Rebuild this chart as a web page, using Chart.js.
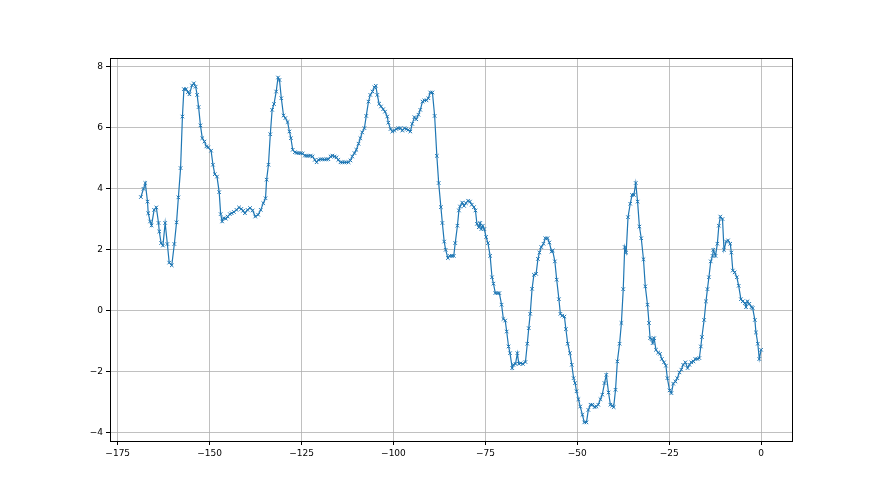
<!DOCTYPE html>
<html>
<head>
<meta charset="utf-8">
<script src="https://cdn.jsdelivr.net/npm/chart.js@4"></script>
<style>
  body { margin: 0; background: #fff; }
  #c { display: block; }
</style>
</head>
<body>
<canvas id="c" width="880" height="495"></canvas>
<script>
// series, x then y
const xValues = [
  -168.7,-168.0,-167.5,-166.9,-166.7,-166.2,-165.8,-165.1,-164.5,-163.9,-163.7,-163.2,-162.7,-162.1,-161.5,-161.0,-160.3,-159.6,-159.0,-158.5,
  -157.9,-157.4,-157.0,-156.4,-155.9,-155.5,-154.8,-154.3,-153.8,-153.4,-153.0,-152.5,-152.0,-151.4,-150.9,-150.4,-149.6,-149.1,-148.6,-148.0,
  -147.4,-147.0,-146.6,-146.2,-145.6,-145.1,-144.5,-144.0,-143.4,-142.7,-142.0,
  -141.4,-140.9,-140.4,-139.7,-139.0,-138.3,-137.6,-136.8,-136.1,-135.4,-134.8,-134.5,-134.0,-133.5,-133.0,-132.5,-131.9,-131.4,-131.0,-130.5,
  -129.9,-129.4,-128.8,-128.3,-127.9,-127.4,-126.8,-126.3,-125.8,-125.2,-124.7,-124.1,-123.6,-123.1,-122.5,-122.0,-121.4,-120.9,-120.4,-119.8,
  -119.3,-118.7,-118.2,-117.7,-117.1,-116.6,-116.0,-115.5,-115.0,-114.4,-113.9,-113.3,-112.8,-112.2,
  -111.7,-111.2,-110.6,-110.1,-109.5,-109.0,-108.5,-107.9,-107.4,-106.8,-106.3,-105.7,-105.2,-104.8,-104.4,-103.9,-103.4,-102.8,-102.3,-101.7,
  -101.4,-100.8,-100.3,-99.8,-99.2,-98.7,-98.1,-97.6,-97.0,-96.5,-96.0,-95.4,-94.9,-94.3,-93.8,-93.2,-92.7,-92.1,-91.6,-91.0,
  -90.5,-90.0,-89.4,-88.8,-88.2,-87.7,-87.1,-86.7,-86.2,-85.8,-85.2,-84.7,-84.1,-83.6,
  -83.2,-82.6,-82.2,-81.9,-81.3,-80.8,-80.3,-79.7,-79.2,-78.7,-78.1,-77.7,-77.3,-76.8,-76.4,-76.1,-75.7,-75.3,-74.8,-74.3,
  -73.7,-73.2,-72.8,-72.3,-71.7,-71.2,-70.6,-70.1,-69.6,-69.2,-68.7,-68.3,-67.7,-67.4,-66.8,-66.3,-65.9,-65.4,-64.8,-64.1,
  -63.6,-63.2,-62.8,-62.3,-61.8,-61.2,-60.7,-60.3,-59.8,-59.2,-58.7,-58.1,-57.6,-57.0,-56.7,-56.1,-55.6,-55.0,
  -54.6,-54.1,-53.5,-53.1,-52.6,-52.0,-51.5,-51.0,-50.6,-50.2,-49.7,-49.2,-48.6,-48.1,-47.5,-47.0,-46.4,-45.9,-45.3,-44.8,
  -44.3,-43.7,-43.2,-42.6,-42.1,-41.5,-41.0,-40.5,-40.1,-39.6,-39.1,-38.5,-38.0,-37.5,-37.1,-36.7,-36.2,-35.6,-35.1,-34.6,
  -34.1,-33.6,-33.1,-32.6,-32.0,-31.5,-30.9,-30.5,-30.2,-29.8,-29.5,-29.1,-28.6,-28.0,-27.5,-27.0,-26.4,
  -25.9,-25.5,-24.9,-24.4,-23.9,-23.3,-22.8,-22.2,-21.7,-21.2,-20.6,-20.0,-19.5,-19.0,-18.4,-17.9,-17.3,-16.8,-16.4,-16.1,
  -15.5,-15.0,-14.6,-14.2,-13.7,-13.2,-13.0,-12.4,-11.9,-11.5,-11.1,-10.5,-10.1,-9.5,-9.0,-8.4,-8.1,-7.7,-7.2,-6.6,
  -6.1,-5.5,-5.0,-4.4,-4.1,-3.7,-3.2,-2.6,-2.3,-1.7,-1.4,-0.9,-0.5,0.0
];
const yValues = [
  3.73,4.00,4.19,3.58,3.20,2.93,2.80,3.31,3.39,2.88,2.60,2.22,2.14,2.88,2.19,1.58,1.49,2.19,2.90,3.72,
  4.68,6.37,7.27,7.27,7.17,7.10,7.39,7.46,7.35,7.08,6.68,6.08,5.66,5.55,5.39,5.36,5.25,4.79,4.48,4.40,
  3.89,3.17,2.93,3.04,3.02,3.09,3.17,3.20,3.24,3.31,3.39,
  3.34,3.28,3.20,3.31,3.37,3.29,3.09,3.15,3.31,3.53,3.69,4.30,4.79,5.79,6.59,6.78,7.19,7.65,7.57,6.97,
  6.40,6.32,6.19,5.88,5.66,5.28,5.20,5.18,5.17,5.17,5.16,5.09,5.08,5.08,5.09,5.06,4.95,4.87,4.95,4.97,
  4.97,4.96,4.97,4.97,5.06,5.09,5.06,5.03,4.95,4.87,4.87,4.87,4.87,4.87,
  4.93,5.06,5.17,5.28,5.48,5.66,5.85,5.99,6.39,6.86,7.08,7.19,7.33,7.38,7.08,6.79,6.70,6.61,6.53,6.37,
  6.17,5.96,5.88,5.91,5.96,5.99,5.99,5.91,5.99,5.96,5.93,5.88,6.13,6.35,6.28,6.43,6.59,6.86,6.90,6.90,
  6.97,7.16,7.16,6.39,5.08,4.19,3.40,2.88,2.27,2.00,1.73,1.80,1.80,1.80,
  2.22,2.79,3.29,3.42,3.55,3.44,3.53,3.61,3.58,3.48,3.40,3.29,2.85,2.74,2.88,2.68,2.79,2.68,2.42,2.22,
  1.80,1.10,0.89,0.58,0.58,0.58,0.20,-0.27,-0.32,-0.68,-1.17,-1.39,-1.88,-1.77,-1.74,-1.39,-1.74,-1.72,-1.74,-1.68,
  -1.08,-0.57,-0.10,0.72,1.18,1.21,1.70,1.91,2.09,2.20,2.38,2.38,2.24,1.94,1.98,1.62,1.02,0.38,
  -0.10,-0.16,-0.19,-0.60,-1.08,-1.39,-1.77,-2.21,-2.37,-2.64,-2.90,-3.14,-3.41,-3.66,-3.66,-3.25,-3.08,-3.08,-3.16,-3.14,
  -3.08,-2.90,-2.75,-2.37,-2.10,-2.68,-3.08,-3.11,-3.16,-2.59,-1.66,-1.08,-0.40,0.71,2.09,1.91,3.07,3.51,3.80,3.80,
  4.19,3.58,2.76,2.38,1.69,0.80,0.20,-0.40,-0.90,-0.93,-1.06,-0.90,-1.28,-1.37,-1.41,-1.58,-1.69,
  -1.80,-2.21,-2.61,-2.70,-2.39,-2.32,-2.21,-2.02,-1.93,-1.77,-1.69,-1.88,-1.77,-1.69,-1.66,-1.58,-1.58,-1.55,-1.17,-0.86,
  -0.30,0.31,0.71,1.10,1.62,1.80,2.00,1.80,2.20,2.79,3.09,3.01,2.00,2.27,2.31,2.20,1.91,1.32,1.26,1.10,
  0.82,0.38,0.31,0.25,0.12,0.31,0.23,0.12,0.09,-0.30,-0.71,-1.08,-1.58,-1.28
];
const xTicks = [-175, -150, -125, -100, -75, -50, -25, 0];
const yTicks = [-4, -2, 0, 2, 4, 6, 8];

const points = xValues.map((x, i) => ({ x: x, y: yValues[i] }));
const minus = v => String(v).replace('-', '\u2212');

// black frame round the plot area, like the matplotlib spines
const frame = {
  id: 'frame',
  afterDraw(chart) {
    const a = chart.chartArea, ctx = chart.ctx;
    ctx.save();
    ctx.strokeStyle = '#000';
    ctx.lineWidth = 1;
    ctx.strokeRect(Math.round(a.left) + 0.5, Math.round(a.top) + 0.5,
      Math.round(a.right - a.left), Math.round(a.bottom - a.top));
    ctx.restore();
  }
};

const tickFont = { family: 'DejaVu Sans', size: 9 };

new Chart(document.getElementById('c'), {
  type: 'scatter',
  data: {
    datasets: [{
      data: points,
      showLine: true,
      borderColor: '#1f77b4',
      borderWidth: 1.2,
      pointStyle: 'crossRot',
      pointRadius: 2.5,
      pointBorderWidth: 1,
      pointBorderColor: '#1f77b4',
      pointBackgroundColor: '#1f77b4',
      tension: 0
    }]
  },
  options: {
    responsive: false,
    animation: false,
    devicePixelRatio: 1,
    layout: { padding: { left: 0, right: 88, top: 58, bottom: 24 } },
    plugins: { legend: { display: false }, tooltip: { enabled: false } },
    scales: {
      x: {
        type: 'linear',
        min: -177.1,
        max: 8.4,
        afterBuildTicks: s => { s.ticks = xTicks.map(v => ({ value: v })); },
        afterFit: s => { s.height = 30; },
        grid: { color: '#b0b0b0', lineWidth: 0.8, tickColor: '#000', tickLength: 4, tickWidth: 1 },
        border: { display: false },
        ticks: { color: '#000', font: tickFont, padding: 3, maxRotation: 0, callback: v => minus(v) }
      },
      y: {
        type: 'linear',
        min: -4.27,
        max: 8.29,
        afterBuildTicks: s => { s.ticks = yTicks.map(v => ({ value: v })); },
        afterFit: s => { s.width = 110; },
        grid: { color: '#b0b0b0', lineWidth: 0.8, tickColor: '#000', tickLength: 4, tickWidth: 1 },
        border: { display: false },
        ticks: { color: '#000', font: tickFont, padding: 3, callback: v => minus(v) }
      }
    }
  },
  plugins: [frame]
});
</script>
</body>
</html>
